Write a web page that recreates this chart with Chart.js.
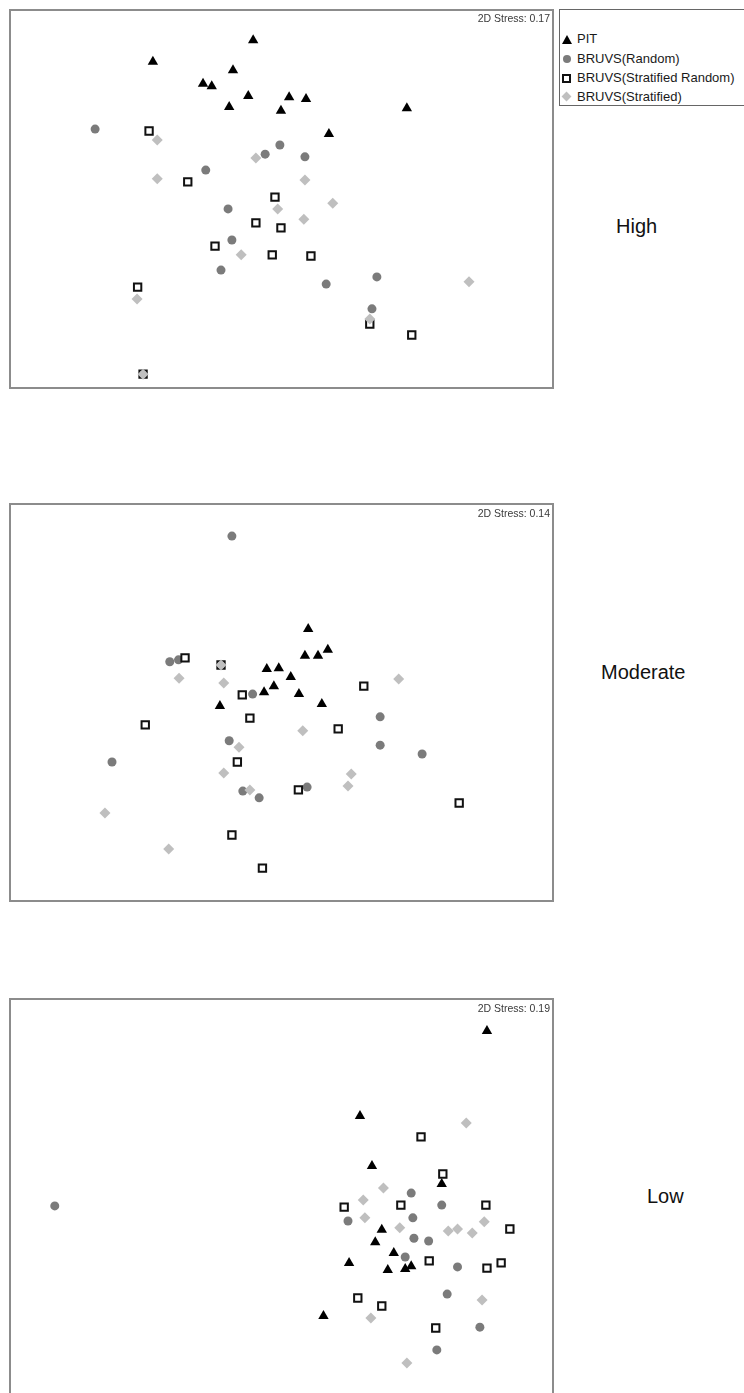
<!DOCTYPE html>
<html>
<head>
<meta charset="utf-8">
<script src="https://cdn.jsdelivr.net/npm/chart.js@4.4.1/dist/chart.umd.min.js"></script>
<style>
  body { margin: 0; width: 744px; height: 1393px; overflow: hidden; background: #fff;
         font-family: "Liberation Sans", Arial, sans-serif; position: relative; }
  .panel { position: absolute; left: 9px; width: 545px; }
  .stress { position: absolute; left: 400px; width: 150px; text-align: right;
            font-size: 10.5px; line-height: 12px; color: #3a3a3a; }
  .label { position: absolute; font-size: 20px; line-height: 20px; color: #111; }
  #legend { position: absolute; left: 559px; top: 9px; width: 186px; height: 97px;
            border: 1px solid #666; box-sizing: border-box; }
  .entry { position: absolute; left: 17px; height: 16px; line-height: 16px;
           font-size: 13px; color: #1a1a1a; white-space: nowrap; }
  .mk { position: absolute; }
</style>
</head>
<body>

<div class="panel" style="top:9px;height:380px"><canvas id="c0"></canvas></div>
<div class="panel" style="top:503px;height:399px"><canvas id="c1"></canvas></div>
<div class="panel" style="top:998px;height:399px"><canvas id="c2"></canvas></div>

<div class="stress" id="s0" style="top:12px"></div>
<div class="stress" id="s1" style="top:507px"></div>
<div class="stress" id="s2" style="top:1002px"></div>

<div class="label" id="l0" style="left:616px;top:216px"></div>
<div class="label" id="l1" style="left:601px;top:662px"></div>
<div class="label" id="l2" style="left:647px;top:1186px"></div>

<div id="legend">
  <div class="mk" style="left:2px;top:25px;width:0;height:0;border-left:5px solid transparent;border-right:5px solid transparent;border-bottom:9px solid #000"></div>
  <div class="entry" id="g0" style="top:21px"></div>
  <div class="mk" style="left:3px;top:45px;width:8px;height:8px;border-radius:50%;background:#7b7b7b"></div>
  <div class="entry" id="g1" style="top:41px"></div>
  <div class="mk" style="left:2px;top:64px;width:5px;height:5px;border:2px solid #111;background:#fff"></div>
  <div class="entry" id="g2" style="top:60px"></div>
  <div class="mk" style="left:3px;top:83px;width:7px;height:7px;transform:rotate(45deg);background:#bfbfbf"></div>
  <div class="entry" id="g3" style="top:79px"></div>
</div>

<script>
const groups = ['PIT', 'BRUVS(Random)', 'BRUVS(Stratified Random)', 'BRUVS(Stratified)'];
const panelNames = ['High', 'Moderate', 'Low'];
const stressValues = ['0.17', '0.14', '0.19'];

// nMDS ordination, both axes scaled 0-100 across the plot frame
const highPIT = [[44.8,91.8],[26.4,86.1],[41.1,83.9],[35.6,80.3],[37.2,79.7],[43.9,77.1],
  [51.4,76.8],[54.5,76.3],[40.4,74.2],[49.9,73.2],[58.7,67.1],[73.0,73.9]];
const highRandom = [[15.8,68.4],[49.7,64.2],[47.0,61.8],[54.3,61.1],[36.1,57.6],[40.2,47.4],
  [40.9,39.2],[38.9,31.3],[58.2,27.6],[67.5,29.5],[66.6,21.1]];
const highStratRandom = [[25.7,67.9],[32.8,54.5],[48.8,50.5],[45.3,43.7],[49.9,42.4],[37.8,37.6],
  [48.3,35.3],[55.4,35.0],[23.6,26.8],[66.2,17.1],[73.9,14.2],[24.6,3.9]];
const highStratified = [[27.2,65.5],[27.2,55.3],[45.3,60.8],[54.3,55.0],[59.4,48.9],[49.3,47.4],
  [54.1,44.7],[42.6,35.3],[23.5,23.7],[84.4,28.2],[66.2,18.4],[24.6,3.9]];

const modPIT = [[54.9,68.4],[54.3,61.7],[56.7,61.7],[58.5,63.2],[47.3,58.4],[49.5,58.6],
  [51.7,56.4],[48.6,54.1],[46.8,52.6],[53.2,52.1],[57.4,49.6],[38.7,49.1]];
const modRandom = [[40.9,91.7],[29.5,60.2],[31.1,60.7],[44.7,52.1],[68.1,46.4],[40.4,40.4],
  [68.1,39.3],[75.8,37.1],[18.9,35.1],[42.9,27.8],[45.9,26.1],[54.7,28.8]];
const modStratRandom = [[32.3,61.2],[38.9,59.4],[42.8,51.9],[65.1,54.1],[44.2,46.1],[25.0,44.4],
  [60.4,43.4],[41.9,35.1],[53.1,28.1],[82.6,24.8],[40.9,16.8],[46.5,8.5]];
const modStratified = [[31.2,56.1],[39.4,54.9],[71.5,55.9],[38.9,59.4],[53.9,42.9],[42.2,38.8],
  [39.4,32.3],[62.8,32.1],[62.2,29.1],[44.2,28.1],[17.6,22.3],[29.3,13.3]];

const lowPIT = [[87.7,91.7],[64.4,70.4],[66.6,57.9],[79.4,53.4],[68.4,41.9],[67.2,38.8],
  [70.6,36.1],[62.4,33.6],[69.5,31.8],[72.7,32.1],[73.8,32.8],[57.7,20.3]];
const lowRandom = [[8.4,47.9],[73.8,51.1],[79.4,48.1],[62.2,44.1],[74.1,44.9],[74.3,39.8],
  [77.0,39.1],[72.7,35.1],[82.3,32.6],[80.4,25.8],[86.4,17.5],[78.5,11.8]];
const lowStratRandom = [[75.6,65.2],[79.6,55.9],[61.5,47.6],[71.9,48.1],[87.5,48.1],[91.9,42.1],
  [77.1,34.1],[87.7,32.3],[90.3,33.6],[64.0,24.8],[68.4,22.8],[78.3,17.3]];
const lowStratified = [[83.9,68.7],[68.7,52.4],[65.0,49.4],[65.3,44.9],[71.7,42.4],[80.6,41.6],
  [82.3,42.1],[85.0,41.1],[87.2,43.9],[86.8,24.3],[66.4,19.8],[73.0,8.5]];

const panels = [
  [highPIT, highRandom, highStratRandom, highStratified],
  [modPIT, modRandom, modStratRandom, modStratified],
  [lowPIT, lowRandom, lowStratRandom, lowStratified]
];

const markers = [
  { pointStyle: 'triangle', pointRadius: 6, pointBackgroundColor: '#000', pointBorderColor: '#000', pointBorderWidth: 0, order: 4 },
  { pointStyle: 'circle', pointRadius: 4.5, pointBackgroundColor: '#7b7b7b', pointBorderColor: '#7b7b7b', pointBorderWidth: 0, order: 3 },
  { pointStyle: 'rect', pointRadius: 5.2, pointBackgroundColor: '#fff', pointBorderColor: '#111', pointBorderWidth: 2, order: 2 },
  { pointStyle: 'rectRot', pointRadius: 5.5, pointBackgroundColor: '#bfbfbf', pointBorderColor: '#bfbfbf', pointBorderWidth: 0, order: 1 }
];

const frame = {
  id: 'frame',
  afterDraw(chart) {
    const { ctx, chartArea: a } = chart;
    ctx.save();
    ctx.strokeStyle = '#8c8c8c';
    ctx.lineWidth = 2;
    ctx.strokeRect(a.left + 1, a.top + 1, a.right - a.left - 2, a.bottom - a.top - 2);
    ctx.restore();
  }
};

panels.forEach((sets, i) => {
  new Chart(document.getElementById('c' + i), {
    type: 'scatter',
    data: {
      datasets: sets.map((pts, g) => Object.assign({
        label: groups[g],
        data: pts.map(p => ({ x: p[0], y: p[1] })),
        pointHoverRadius: markers[g].pointRadius
      }, markers[g]))
    },
    options: {
      responsive: true,
      maintainAspectRatio: false,
      animation: false,
      devicePixelRatio: 1,
      layout: { padding: 0, autoPadding: false },
      plugins: { legend: { display: false }, tooltip: { enabled: false } },
      scales: {
        x: { type: 'linear', display: false, min: 0, max: 100 },
        y: { type: 'linear', display: false, min: 0, max: 100 }
      }
    },
    plugins: [frame]
  });
  document.getElementById('s' + i).textContent = '2D Stress: ' + stressValues[i];
  document.getElementById('l' + i).textContent = panelNames[i];
});

groups.forEach((g, i) => { document.getElementById('g' + i).textContent = g; });
</script>
</body>
</html>
